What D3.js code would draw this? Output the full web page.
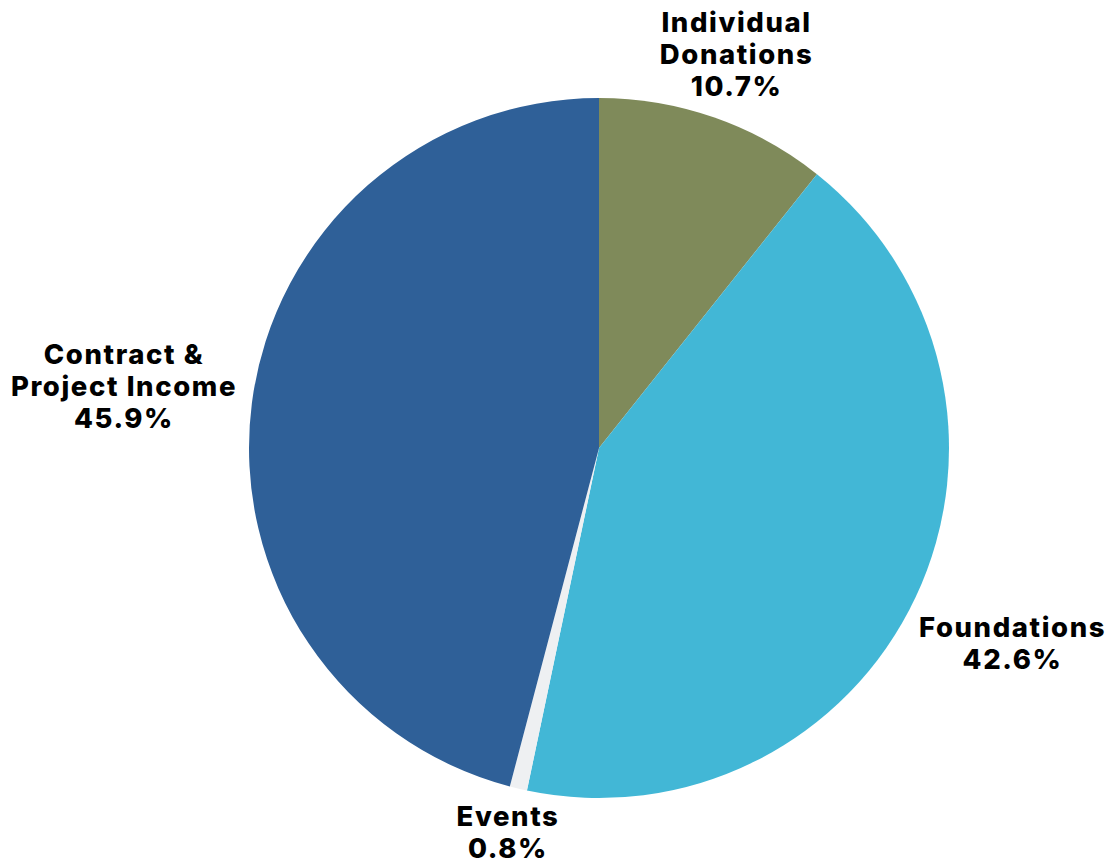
<!DOCTYPE html>
<html>
<head>
<meta charset="utf-8">
<script src="https://cdn.jsdelivr.net/npm/d3@7"></script>
<style>
  html, body { margin: 0; padding: 0; background: #fff; }
  svg text { font-family: Inter, "Open Sans", sans-serif; font-weight: 800; fill: #000; letter-spacing: 1.6px; }
</style>
</head>
<body>
<div id="chart"></div>
<script>
// slices, clockwise from 12 o'clock
const categories = ['Individual Donations', 'Foundations', 'Events', 'Contract & Project Income']
const labelLines = [['Individual', 'Donations'], ['Foundations'], ['Events'], ['Contract &', 'Project Income']]
const values = [10.7, 42.6, 0.8, 45.9]
const colors = ['#7f8a5a', '#42b7d6', '#eef0f2', '#2f6098']

const width = 1120
const height = 865
const cx = 599
const cy = 448
const radius = 350
const fontSize = 27.5
const lineH = 32
const gap = 12

const svg = d3.select('#chart').append('svg')
  .attr('width', width)
  .attr('height', height)

const pie = d3.pie().sort(null).value(d => d)(values)
const arc = d3.arc().innerRadius(0).outerRadius(radius)

const g = svg.append('g').attr('transform', `translate(${cx},${cy})`)

g.selectAll('path.slice')
  .data(pie)
  .enter().append('path')
  .attr('class', 'slice')
  .attr('d', arc)
  .attr('fill', (d, i) => colors[i])

// labels outside, pushed out along the mid angle until the box clears the pie
const labels = g.selectAll('g.label')
  .data(pie)
  .enter().append('g')
  .attr('class', 'label')

labels.each(function (d, i) {
  const el = d3.select(this)
  const lines = labelLines[i].concat([d3.format('.1f')(values[i]) + '%'])
  const t = el.append('text').attr('text-anchor', 'middle').style('font-size', fontSize + 'px')
  lines.forEach((l, j) => {
    t.append('tspan').attr('x', 0).attr('y', j * lineH).text(l)
  })
  const bb = t.node().getBBox()
  // centre the block on (0,0)
  const offX = -(bb.x + bb.width / 2)
  const offY = -(bb.y + bb.height / 2)
  t.attr('transform', `translate(${offX},${offY})`)
  const w = bb.width
  const h = bb.height * 0.74
  const a = (d.startAngle + d.endAngle) / 2
  const ux = Math.sin(a)
  const uy = -Math.cos(a)
  let dist = radius
  for (; dist < radius + 400; dist += 1) {
    const bx = dist * ux
    const by = dist * uy
    const nx = Math.max(bx - w / 2, Math.min(0, bx + w / 2))
    const ny = Math.max(by - h / 2, Math.min(0, by + h / 2))
    if (Math.hypot(nx, ny) >= radius + gap) break
  }
  el.attr('transform', `translate(${dist * ux},${dist * uy})`)
})
</script>
</body>
</html>
